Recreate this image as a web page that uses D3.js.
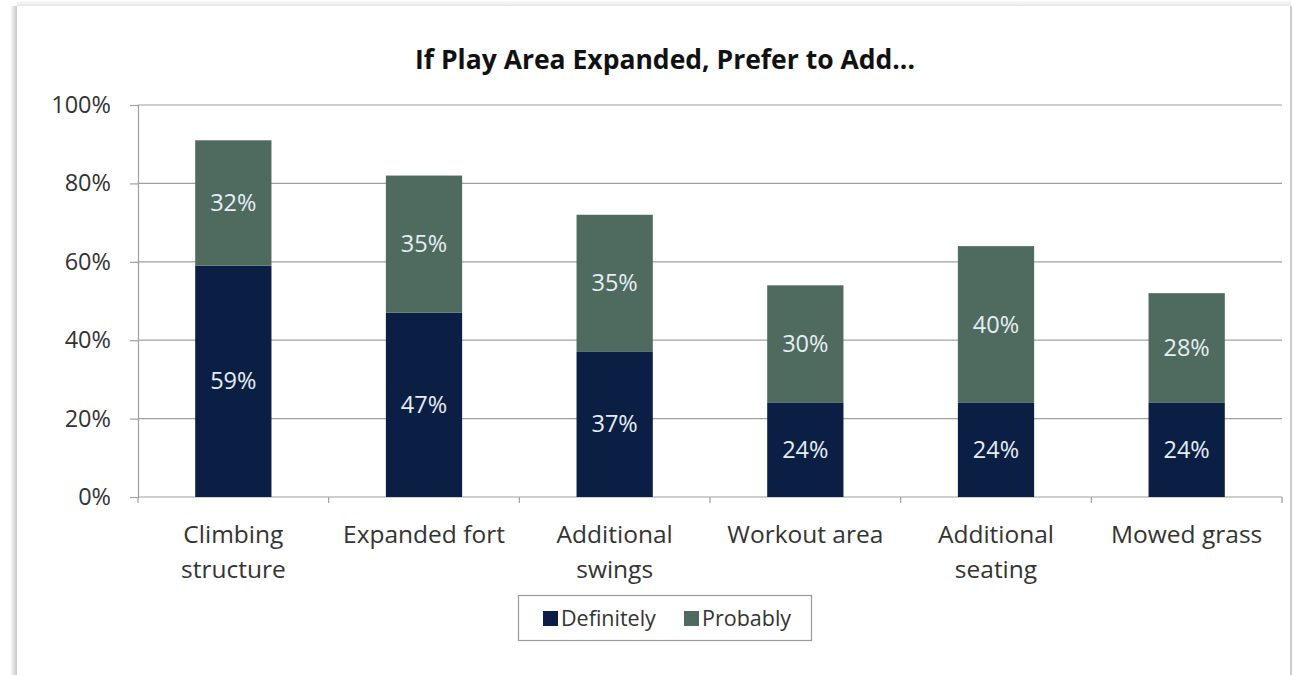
<!DOCTYPE html>
<html>
<head>
<meta charset="utf-8">
<script src="https://cdn.jsdelivr.net/npm/d3@7"></script>
<style>
  html, body { margin: 0; padding: 0; background: #ffffff; }
  svg { display: block; font-family: "Open Sans", "Noto Sans", sans-serif; }
</style>
</head>
<body>
<svg id="chart" width="1293" height="675"></svg>
<script>
// Survey results: share preferring each addition if the play area is expanded
const categories = [
  ["Climbing", "structure"],
  ["Expanded fort"],
  ["Additional", "swings"],
  ["Workout area"],
  ["Additional", "seating"],
  ["Mowed grass"]
];
const definitely = [59, 47, 37, 24, 24, 24];
const probably   = [32, 35, 35, 30, 40, 28];
const seriesNames = ["Definitely", "Probably"];
const yTicks = [0, 20, 40, 60, 80, 100];
const titleText = "If Play Area Expanded, Prefer to Add...";

const colors = { Definitely: "#0b1f45", Probably: "#4f6b60" };

const svg = d3.select("#chart");
const W = 1293, H = 675;

// card with soft shadow on the left and top
const defs = svg.append("defs");
const lg = defs.append("linearGradient").attr("id", "shadowL").attr("x1", 0).attr("x2", 1);
lg.append("stop").attr("offset", 0).attr("stop-color", "#ffffff");
lg.append("stop").attr("offset", 1).attr("stop-color", "#c8c8c8");
const tg = defs.append("linearGradient").attr("id", "shadowT").attr("x1", 0).attr("x2", 0).attr("y1", 0).attr("y2", 1);
tg.append("stop").attr("offset", 0).attr("stop-color", "#ffffff");
tg.append("stop").attr("offset", 1).attr("stop-color", "#e6e6e6");

svg.append("rect").attr("x", 10).attr("y", 6).attr("width", 7).attr("height", H - 6).attr("fill", "url(#shadowL)");
svg.append("rect").attr("x", 17).attr("y", 0).attr("width", 1274).attr("height", 6).attr("fill", "url(#shadowT)");
svg.append("rect").attr("x", 17).attr("y", 6).attr("width", 1274).attr("height", H - 6).attr("fill", "#ffffff");
svg.append("line").attr("x1", 1291).attr("x2", 1291).attr("y1", 6).attr("y2", H)
  .attr("stroke", "#bdbdbd").attr("stroke-width", 1.5);

const margin = { left: 138, right: 1282, top: 105, bottom: 497 };

const x = d3.scaleBand()
  .domain(d3.range(categories.length))
  .range([margin.left, margin.right])
  .paddingInner(0.6)
  .paddingOuter(0.3);

const y = d3.scaleLinear().domain([0, 100]).range([margin.bottom, margin.top]);

// title
svg.append("text")
  .attr("x", 665).attr("y", 69)
  .attr("text-anchor", "middle")
  .attr("font-size", 26.5).attr("font-weight", 700).attr("fill", "#111")
  .text(titleText);

// horizontal gridlines
svg.append("g")
  .selectAll("line")
  .data(yTicks.filter(t => t > 0))
  .join("line")
  .attr("x1", margin.left).attr("x2", margin.right)
  .attr("y1", d => y(d)).attr("y2", d => y(d))
  .attr("stroke", "#a0a0a0").attr("stroke-width", 1.2);

// y axis
const yAxis = d3.axisLeft(y).tickValues(yTicks).tickSize(8).tickPadding(19)
  .tickFormat(d => d + "%");
const gy = svg.append("g").attr("transform", `translate(${margin.left},0)`).call(yAxis);
gy.select(".domain").attr("stroke", "#a0a0a0").attr("stroke-width", 1.2);
gy.selectAll(".tick line").attr("stroke", "#a0a0a0").attr("stroke-width", 1.2);
gy.selectAll(".tick text").attr("font-size", 23.5).attr("fill", "#333")
  .attr("font-family", "'Open Sans', sans-serif");

// x baseline with ticks at category boundaries
const bounds = d3.range(categories.length + 1).map(i => margin.left + i * (margin.right - margin.left) / categories.length);
svg.append("line").attr("x1", margin.left).attr("x2", margin.right)
  .attr("y1", y(0)).attr("y2", y(0)).attr("stroke", "#a0a0a0").attr("stroke-width", 1.2);
svg.append("g").selectAll("line").data(bounds).join("line")
  .attr("x1", d => d).attr("x2", d => d)
  .attr("y1", y(0)).attr("y2", y(0) + 6)
  .attr("stroke", "#a0a0a0").attr("stroke-width", 1.2);

// stacked bars
const rows = categories.map((c, i) => ({ i, Definitely: definitely[i], Probably: probably[i] }));
const stack = d3.stack().keys(seriesNames)(rows);

const layers = svg.append("g").selectAll("g").data(stack).join("g")
  .attr("fill", d => colors[d.key]);

layers.selectAll("rect").data(d => d).join("rect")
  .attr("x", d => x(d.data.i))
  .attr("width", x.bandwidth())
  .attr("y", d => y(d[1]))
  .attr("height", d => y(d[0]) - y(d[1]));

// value labels
layers.selectAll("text").data(d => d.map(v => ({ v, key: d.key }))).join("text")
  .attr("x", d => x(d.v.data.i) + x.bandwidth() / 2)
  .attr("y", d => (y(d.v[0]) + y(d.v[1])) / 2 + 8)
  .attr("text-anchor", "middle")
  .attr("font-size", 23.5)
  .attr("fill", "#e6eef2")
  .text(d => d.v.data[d.key] + "%");

// category labels
const catG = svg.append("g");
categories.forEach((lines, i) => {
  const cx = x(i) + x.bandwidth() / 2;
  const t = catG.append("text")
    .attr("x", cx)
    .attr("y", 543)
    .attr("text-anchor", "middle")
    .attr("font-size", 24.5)
    .attr("fill", "#333");
  lines.forEach((ln, j) => {
    t.append("tspan").attr("x", cx).attr("dy", j === 0 ? 0 : 35).text(ln);
  });
});

// legend
const legend = svg.append("g");
legend.append("rect").attr("x", 518.5).attr("y", 595.5).attr("width", 293).attr("height", 45)
  .attr("fill", "#fff").attr("stroke", "#9a9a9a").attr("stroke-width", 1.2);
const legendItems = [
  { key: "Definitely", sx: 543, tx: 561 },
  { key: "Probably", sx: 684, tx: 702 }
];
legendItems.forEach(it => {
  legend.append("rect").attr("x", it.sx).attr("y", 611).attr("width", 15).attr("height", 15)
    .attr("fill", colors[it.key]);
  legend.append("text").attr("x", it.tx).attr("y", 626).attr("font-size", 21.5).attr("fill", "#333")
    .text(it.key);
});
</script>
</body>
</html>
